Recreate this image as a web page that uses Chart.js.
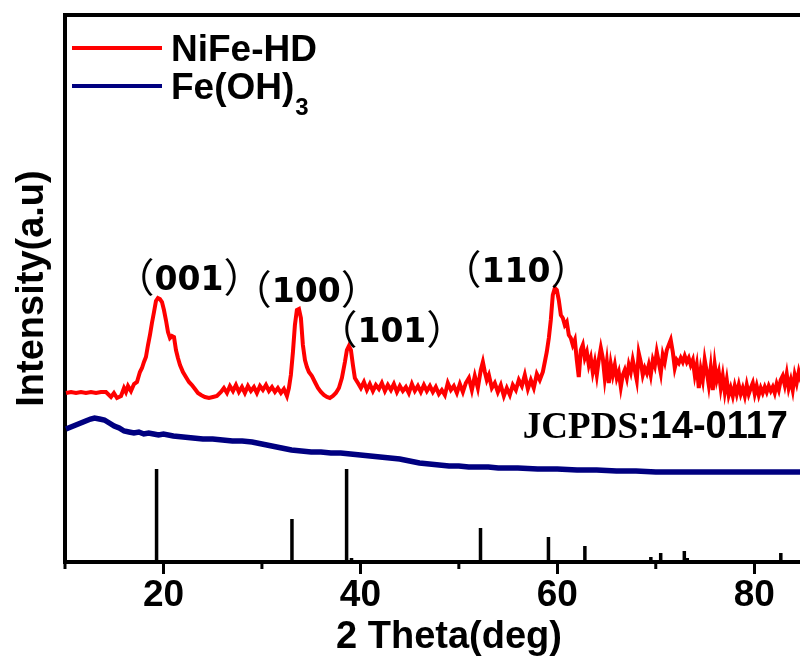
<!DOCTYPE html>
<html>
<head>
<meta charset="utf-8">
<script src="https://cdn.jsdelivr.net/npm/chart.js@4.4.1/dist/chart.umd.min.js"></script>
<style>
  html, body { margin: 0; padding: 0; background: #fff; overflow: hidden; }
  canvas { display: block; }
</style>
</head>
<body>
<canvas id="xrd" width="835" height="660"></canvas>
<script>
// NiFe-HD pattern (2 theta in deg, intensity in a.u.)
const nifeTheta = [
  10.10,10.61,11.12,11.62,12.13,12.64,13.15,13.65,14.16,14.67,
  14.97,15.28,15.69,15.99,16.19,16.40,16.70,17.01,17.31,17.61,
  17.82,18.02,18.22,18.43,18.63,18.83,19.04,19.24,19.44,19.64,
  19.85,20.05,20.25,20.46,20.66,20.86,21.07,21.27,21.47,21.68,
  21.98,22.28,22.59,22.89,23.20,23.50,23.81,24.21,24.62,25.03,
  25.43,25.84,26.14,26.45,26.75,27.06,27.36,27.66,27.97,28.27,
  28.58,28.88,29.19,29.49,29.80,30.10,30.41,30.71,31.02,31.32,
  31.62,31.93,32.23,32.54,32.74,32.94,33.15,33.35,33.55,33.76,
  33.96,34.16,34.37,34.57,34.77,35.08,35.38,35.69,35.99,36.29,
  36.60,36.90,37.21,37.51,37.82,38.12,38.43,38.63,38.83,39.04,
  39.24,39.44,39.75,40.05,40.36,40.66,40.96,41.27,41.57,41.88,
  42.18,42.49,42.79,43.10,43.40,43.71,44.01,44.31,44.62,44.92,
  45.23,45.53,45.84,46.14,46.45,46.75,47.06,47.36,47.66,47.97,
  48.27,48.58,48.88,49.19,49.49,49.80,50.10,50.41,50.71,51.02,
  51.32,51.62,51.93,52.23,52.44,52.64,52.84,53.05,53.35,53.65,
  53.96,54.26,54.57,54.87,55.18,55.48,55.79,56.09,56.40,56.70,
  57.01,57.31,57.61,57.92,58.22,58.53,58.73,58.93,59.14,59.34,
  59.54,59.75,59.95,60.15,60.36,60.56,60.76,60.96,61.17,61.37,
  61.57,61.78,61.98,62.18,62.39,62.59,62.79,63.00,63.20,63.40,
  63.60,63.81,64.01,64.21,64.42,64.62,64.82,65.03,65.23,65.43,
  65.63,65.84,66.04,66.24,66.45,66.65,66.85,67.06,67.26,67.46,
  67.66,67.87,68.07,68.27,68.48,68.68,68.88,69.09,69.29,69.49,
  69.70,69.90,70.10,70.30,70.51,70.71,70.91,71.12,71.32,71.52,
  71.73,71.93,72.13,72.34,72.54,72.74,72.94,73.15,73.35,73.55,
  73.76,73.96,74.16,74.37,74.57,74.77,74.97,75.18,75.38,75.58,
  75.79,75.99,76.19,76.40,76.60,76.80,77.01,77.21,77.41,77.61,
  77.82,78.02,78.22,78.43,78.63,78.83,79.04,79.24,79.44,79.65,
  79.85,80.05,80.25,80.46,80.66,80.86,81.07,81.27,81.47,81.68,
  81.88,82.08,82.28,82.49,82.69,82.89,83.10,83.30,83.50,83.71,
  83.91,84.11,84.31,84.52,84.72,84.92,85.50,86.20,87.00,88.00
];
const nifeInt = [
  169,170,169,170,169,170,169,170,170,165,
  169,164,166,174,170,176,171,178,180,190,
  194,200,205,217,227,239,250,261,264,263,
  260,252,242,230,224,226,225,212,204,197,
  190,185,180,177,173,169,167,165,164,165,
  166,170,174,169,176,171,177,170,175,169,
  176,171,175,169,176,172,177,171,175,170,
  174,169,173,166,174,187,210,237,252,253,
  244,217,202,195,190,186,180,174,170,167,
  165,164,166,169,174,184,200,212,216,212,
  197,184,179,174,180,172,178,171,177,173,
  179,171,177,172,178,170,176,171,175,169,
  178,171,176,170,177,171,176,170,175,168,
  172,167,179,172,176,169,178,170,179,184,
  172,186,174,192,200,190,182,187,174,179,
  170,177,166,174,167,177,172,182,176,187,
  173,182,174,188,182,190,200,210,224,242,
  267,274,272,262,247,244,237,240,227,224,
  217,222,202,185,212,217,204,210,197,204,
  190,200,187,202,214,204,184,200,179,198,
  187,197,184,190,175,187,192,184,197,190,
  202,192,182,209,200,187,194,189,197,187,
  202,196,210,200,189,207,200,212,217,222,
  210,194,202,199,204,200,206,200,204,197,
  202,187,197,174,192,182,202,190,177,194,
  172,197,182,190,174,186,170,182,167,174,
  166,176,168,177,168,174,166,177,168,174,
  179,168,176,167,174,169,175,170,176,171,
  175,169,178,172,182,186,177,188,174,182,
  172,187,179,190,182,177,182,175,183,178
];

// Fe(OH)3 pattern
const fehTheta = [
  10.1,10.6,11.1,11.6,12.1,12.6,13.0,13.5,14.0,14.5,
  15.0,15.5,16.0,16.5,17.0,17.5,18.0,18.5,19.0,19.5,
  20,21,22,23,24,25,26,27,28,29,
  30,31,32,33,34,35,36,37,38,39,
  40,41,42,43,44,45,46,47,48,49,
  50,51,52,53,54,55,56,58,60,62,
  64,66,68,70,72,74,76,78,80,82,
  84,86,88
];
const fehInt = [
  133,135,137,139,141,143,144,143,142,139,
  136,134,131,130,129,130,128,129,128,127,
  128,126,125,124,123,123,122,121,121,120,
  118,116,114,112,111,110,110,109,109,108,
  107,106,105,104,103,101,99,98,97,96,
  96,95,95,95,94,94,94,93,93,92,
  92,91,91,90,90,90,90,90,90,90,
  90,90,90
];

// JCPDS 14-0117 reference lines
const refTheta = [19.3, 33.05, 38.6, 39.1, 52.2, 59.1, 60.3, 62.8, 69.5, 70.5, 72.9, 73.2, 82.7];
const refInt   = [93, 43, 93, 4, 34, 25, 2, 16, 5, 9, 11, 4, 9];

// axis ticks
const xMajorTicks = [20, 40, 60, 80];
const xMinorTicks = [10, 30, 50, 70];

// peak indices
const hklText = ['001', '100', '101', '110'];

const SANS = '"Liberation Sans", Arial, sans-serif';

function toPoints(xs, ys) {
  return xs.map((x, i) => ({ x, y: ys[i] }));
}

// sticks: bottom -> top -> gap
const stickPoints = [];
refTheta.forEach((t, i) => {
  stickPoints.push({ x: t, y: 0 }, { x: t, y: refInt[i] }, { x: t, y: null });
});

// peak labels, drawn at data coordinates
const hklPlace = [
  { x: 22.6, y: 272 },
  { x: 34.5, y: 260 },
  { x: 43.2, y: 220 },
  { x: 55.8, y: 280 }
];

function drawHkl(ctx, text, cx, base) {
  const parts = [
    { s: '（', f: '40px "Noto Sans CJK SC", sans-serif', dy: 2 },
    { s: text, f: 'bold 33px "DejaVu Sans", sans-serif', dy: 0 },
    { s: '）', f: '40px "Noto Sans CJK SC", sans-serif', dy: 2 }
  ];
  let total = 0;
  parts.forEach(p => { ctx.font = p.f; p.w = ctx.measureText(p.s).width; total += p.w; });
  let xx = cx - total / 2;
  parts.forEach(p => { ctx.font = p.f; ctx.fillText(p.s, xx, base + p.dy); xx += p.w; });
}

const decor = {
  id: 'decor',
  afterDraw(chart) {
    const { ctx, chartArea: a, scales: { x, y } } = chart;
    ctx.save();
    ctx.strokeStyle = '#000';
    ctx.fillStyle = '#000';

    // top frame line
    ctx.lineWidth = 4;
    ctx.beginPath();
    ctx.moveTo(a.left - 2, a.top);
    ctx.lineTo(a.right, a.top);
    ctx.stroke();

    // minor ticks
    ctx.lineWidth = 3;
    xMinorTicks.forEach(v => {
      const px = x.getPixelForValue(v);
      ctx.beginPath();
      ctx.moveTo(px, a.bottom);
      ctx.lineTo(px, a.bottom + 7);
      ctx.stroke();
    });

    // hkl labels
    ctx.textBaseline = 'alphabetic';
    ctx.textAlign = 'left';
    hklText.forEach((t, i) => {
      drawHkl(ctx, t, x.getPixelForValue(hklPlace[i].x), y.getPixelForValue(hklPlace[i].y));
    });

    // JCPDS card label
    const jx = x.getPixelForValue(56.5);
    const jy = y.getPixelForValue(124);
    ctx.font = 'bold 37px "Liberation Serif", serif';
    ctx.fillText('JCPDS', jx, jy);
    const jw = ctx.measureText('JCPDS').width;
    ctx.font = 'bold 38px ' + SANS;
    ctx.fillText(':14-0117', jx + jw, jy);

    // legend
    const legend = [
      { text: 'NiFe-HD', sub: '', color: '#ff0000', ly: 48 },
      { text: 'Fe(OH)', sub: '3', color: '#000080', ly: 86 }
    ];
    legend.forEach(it => {
      ctx.strokeStyle = it.color;
      ctx.lineWidth = 4;
      ctx.beginPath();
      ctx.moveTo(72, it.ly);
      ctx.lineTo(162, it.ly);
      ctx.stroke();
      ctx.fillStyle = '#000';
      ctx.font = 'bold 37px ' + SANS;
      ctx.fillText(it.text, 171, it.ly + 13);
      if (it.sub) {
        const w = ctx.measureText(it.text).width;
        ctx.font = 'bold 24px ' + SANS;
        ctx.fillText(it.sub, 171 + w + 1, it.ly + 29);
      }
    });
    ctx.restore();
  }
};

new Chart(document.getElementById('xrd'), {
  type: 'line',
  data: {
    datasets: [
      {
        label: 'NiFe-HD',
        data: toPoints(nifeTheta, nifeInt),
        borderColor: '#ff0000',
        borderWidth: 4,
        pointRadius: 0,
        tension: 0
      },
      {
        label: 'Fe(OH)3',
        data: toPoints(fehTheta, fehInt),
        borderColor: '#000080',
        borderWidth: 5.5,
        pointRadius: 0,
        tension: 0
      },
      {
        label: 'JCPDS:14-0117',
        data: stickPoints,
        borderColor: '#000',
        borderWidth: 3.5,
        pointRadius: 0,
        spanGaps: false
      }
    ]
  },
  options: {
    responsive: false,
    animation: false,
    layout: { padding: { top: 15, right: 2, left: 0, bottom: 0 } },
    plugins: {
      legend: { display: false },
      tooltip: { enabled: false }
    },
    scales: {
      x: {
        type: 'linear',
        min: 10,
        max: 88,
        afterFit: s => { s.height = 98; },
        afterBuildTicks: s => { s.ticks = xMajorTicks.map(v => ({ value: v })); },
        border: { color: '#000', width: 4 },
        grid: { drawOnChartArea: false, drawTicks: true, tickLength: 12, tickWidth: 3, tickColor: '#000' },
        ticks: {
          color: '#000',
          font: { family: SANS, size: 37, weight: 'bold' },
          padding: 0,
          maxRotation: 0,
          autoSkip: false
        },
        title: {
          display: true,
          text: '2 Theta(deg)',
          color: '#000',
          font: { family: SANS, size: 38, weight: 'bold' },
          padding: { top: 0, bottom: 0 }
        }
      },
      y: {
        min: 0,
        max: 547,
        afterFit: s => { s.width = 65; },
        border: { color: '#000', width: 4 },
        grid: { drawOnChartArea: false, drawTicks: false },
        ticks: { display: false },
        title: {
          display: true,
          text: 'Intensity(a.u)',
          color: '#000',
          font: { family: SANS, size: 38, weight: 'bold' },
          padding: { top: 10, bottom: 0 }
        }
      }
    }
  },
  plugins: [decor]
});
</script>
</body>
</html>
